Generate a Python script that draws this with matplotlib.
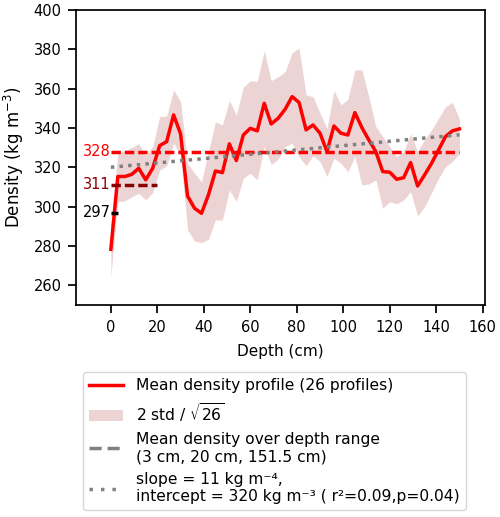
import matplotlib
matplotlib.use("Agg")
import matplotlib.pyplot as plt
from matplotlib.lines import Line2D
from matplotlib.patches import Patch

depth = [0, 3, 6, 9, 12, 15, 18, 21, 24, 27, 30, 33, 36, 39, 42, 45, 48, 51, 54, 57,
         60, 63, 66, 69, 72, 75, 78, 81, 84, 87, 90, 93, 96, 99, 102, 105, 108, 111,
         114, 117, 120, 123, 126, 129, 132, 135, 138, 141, 144, 147, 150]
mean_density = [278.3, 315.3, 315.3, 316.4, 319.5, 313.6, 319.5, 331.0, 333.0, 346.6,
                337.0, 305.4, 299.2, 296.6, 306.0, 318.1, 317.3, 331.9, 323.4, 336.4,
                339.8, 338.5, 352.5, 342.0, 344.9, 349.5, 355.9, 352.9, 339.0, 341.5,
                337.3, 328.0, 341.0, 337.3, 336.4, 347.8, 340.2, 333.9, 328.0, 317.8,
                317.5, 313.9, 314.7, 322.4, 310.5, 316.1, 322.0, 328.8, 335.6, 338.5,
                339.5]
band_upper = [290.0, 327.3, 328.5, 330.0, 332.0, 326.0, 330.5, 345.8, 346.0, 359.3,
              353.4, 322.0, 317.0, 312.7, 328.0, 343.0, 341.5, 353.9, 346.6, 360.7,
              364.0, 363.6, 379.3, 364.0, 366.0, 368.6, 378.3, 380.5, 356.8, 355.9,
              347.5, 339.8, 359.0, 351.7, 354.6, 369.5, 369.5, 355.9, 340.7, 335.6,
              330.5, 325.4, 328.0, 337.0, 328.0, 334.0, 339.0, 344.9, 350.8, 352.9,
              344.4]
band_lower = [264.4, 302.5, 302.9, 305.0, 306.8, 303.4, 307.1, 318.6, 320.7, 332.2,
              326.3, 288.2, 282.5, 281.7, 283.4, 293.2, 293.2, 308.5, 302.5, 314.4,
              316.9, 313.6, 330.5, 321.5, 324.1, 330.5, 332.2, 325.4, 320.7, 325.8,
              322.9, 315.3, 324.6, 322.0, 317.8, 325.4, 311.0, 311.5, 313.6, 299.2,
              302.5, 301.4, 303.4, 307.6, 295.3, 300.0, 307.1, 314.4, 320.3, 322.9,
              327.1]

range_ends = [3, 20, 150]
range_means = [297, 311, 328]
range_colors = ["black", "darkred", "red"]

slope_per_cm = 0.11
intercept = 320
fit_x = [0, 150]

DASH = (0, (2.7, 1.15))
DOT = (0, (1, 1.5))

plt.rcParams["axes.linewidth"] = 1.25
for a in ("xtick", "ytick"):
    plt.rcParams[f"{a}.major.size"] = 6
    plt.rcParams[f"{a}.major.width"] = 1.25
    plt.rcParams[f"{a}.major.pad"] = 4.5
    plt.rcParams[f"{a}.labelsize"] = 10.5

fig = plt.figure(figsize=(5.0, 5.17), dpi=100)
ax = fig.add_axes([0.152, 0.41, 0.818, 0.571])

ax.fill_between(depth, band_lower, band_upper, color="brown", alpha=0.2, linewidth=0)
ax.plot(depth, mean_density, color="red", linewidth=2.5)

for end, m, c in zip(range_ends, range_means, range_colors):
    ax.plot([0, end], [m, m], color=c, linestyle=DASH, linewidth=2.5)
    ax.text(-0.2, m, str(m), color=c, ha="right", va="center", fontsize=10.5)

fy = [intercept + slope_per_cm * x for x in fit_x]
ax.plot(fit_x, fy, color="gray", linestyle=DOT, linewidth=2.5)

ax.set_xlim(-15, 161)
ax.set_ylim(250, 400)
ax.set_xticks([0, 20, 40, 60, 80, 100, 120, 140, 160])
ax.set_yticks([260, 280, 300, 320, 340, 360, 380, 400])
ax.set_xlabel("Depth (cm)", fontsize=11, labelpad=7)
ax.set_ylabel("Density (kg m$^{-3}$)", fontsize=12, labelpad=5)

handles = [
    Line2D([], [], color="red", linewidth=2.5),
    Patch(facecolor="brown", alpha=0.2, edgecolor="none"),
    Line2D([], [], color="gray", linestyle=(0, (3.5, 1.7)), linewidth=2.5),
    Line2D([], [], color="gray", linestyle=(0, (1, 2.3)), linewidth=2.5),
]
labels = [
    "Mean density profile (26 profiles)",
    "2 std / $\\sqrt{26}$",
    "Mean density over depth range\n(3 cm, 20 cm, 151.5 cm)",
    "slope = 11 kg m\u207b\u2074,\nintercept = 320 kg m\u207b\u00b3 ( r\u00b2=0.09,p=0.04)",
]
fig.legend(handles, labels, loc="upper left", bbox_to_anchor=(0.166, 0.2805),
           bbox_transform=fig.transFigure, fontsize=11.2, handlelength=2.2,
           borderaxespad=0)

fig.savefig("out.png", dpi=100)
